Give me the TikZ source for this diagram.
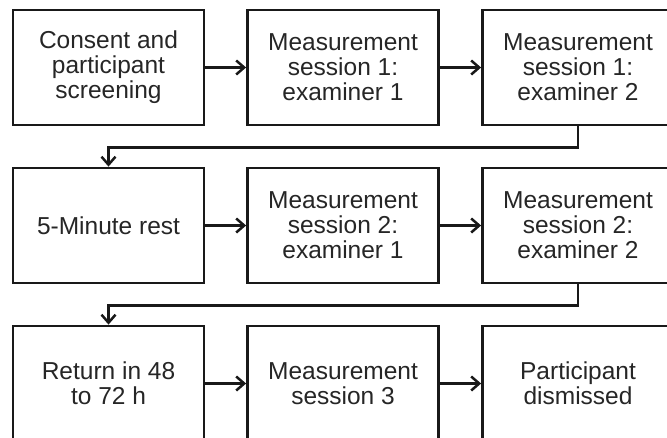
\documentclass[tikz,border=0pt]{standalone}
\usepackage{fontspec}
\setmainfont{Liberation Sans}
\usetikzlibrary{arrows.meta}
\begin{document}
\begin{tikzpicture}[x=1pt,y=-1pt,
  box/.style={draw=black!90, line width=2.8pt, minimum width=191pt, minimum height=115pt,
    align=center, inner sep=0pt, font=\fontsize{24.5}{25}\selectfont, text=black!85},
  conn/.style={draw=black!90, line width=2.5pt, -{Straight Barb[length=8pt,width=14pt,line width=2.5pt]}}]
\useasboundingbox (0,0) rectangle (667,437);
\clip (0,0) rectangle (667,437);
\fill[white] (0,0) rectangle (667,437);
\node[box] (a1) at (108.5,67.5) {Consent and\\participant\\screening};
\node[box] (a2) at (343,67.5) {Measurement\\session 1:\\examiner 1};
\node[box] (a3) at (578,67.5) {Measurement\\session 1:\\examiner 2};
\node[box] (b1) at (108.5,225.5) {5-Minute rest};
\node[box] (b2) at (343,225.5) {Measurement\\session 2:\\examiner 1};
\node[box] (b3) at (578,225.5) {Measurement\\session 2:\\examiner 2};
\node[box] (c1) at (108.5,383.5) {Return in 48\\to 72 h};
\node[box] (c2) at (343,383.5) {Measurement\\session 3};
\node[box] (c3) at (578,383.5) {Participant\\dismissed};
\draw[conn] (a1) -- (a2);
\draw[conn] (a2) -- (a3);
\draw[conn] (b1) -- (b2);
\draw[conn] (b2) -- (b3);
\draw[conn] (c1) -- (c2);
\draw[conn] (c2) -- (c3);
\draw[conn] (a3.south) -- ++(0,21) -| (b1.north);
\draw[conn] (b3.south) -- ++(0,21) -| (c1.north);
\end{tikzpicture}
\end{document}
